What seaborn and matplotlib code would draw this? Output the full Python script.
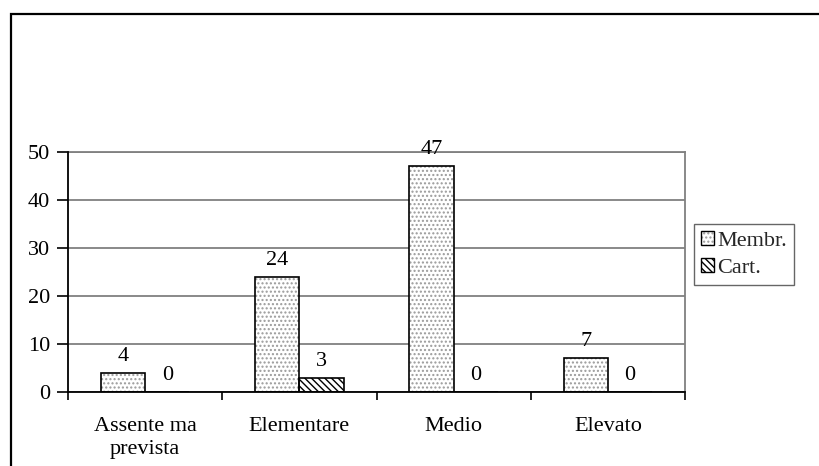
import matplotlib
matplotlib.use("Agg")
import matplotlib.pyplot as plt
import seaborn as sns
import pandas as pd
from matplotlib.patches import Rectangle, Patch
from matplotlib.ticker import FixedLocator
from matplotlib.legend_handler import HandlerTuple

# Data
categories = ["Assente ma\nprevista", "Elementare", "Medio", "Elevato"]
series = ["Membr.", "Cart."]
membr = [4, 24, 47, 7]
cart = [0, 3, 0, 0]

df = pd.DataFrame({
    "livello": categories * 2,
    "serie": [series[0]] * len(categories) + [series[1]] * len(categories),
    "valore": membr + cart,
})

sns.set_theme(style="white")
plt.rcParams["font.family"] = ["Liberation Serif", "DejaVu Serif"]
plt.rcParams["hatch.linewidth"] = 1.0

FS = 16
W, H = 819, 466
fig = plt.figure(figsize=(W / 100, H / 100), dpi=100)
fig.patch.set_facecolor("white")

# plot area in pixel coordinates
x0, x1, y_top, y_bot = 68, 685, 152, 392
ax = fig.add_axes([x0 / W, 1 - y_bot / H, (x1 - x0) / W, (y_bot - y_top) / H])

sns.barplot(data=df, x="livello", y="valore", hue="serie", order=categories,
            hue_order=series, width=0.575, gap=0, ax=ax, legend=False,
            palette=["white", "white"], saturation=1)

styles = {
    "Membr.": dict(hatch="....", hcolor="#9a9a9a"),
    "Cart.": dict(hatch="\\\\\\\\\\", hcolor="black"),
}

for cont, name in zip(ax.containers, series):
    st = styles[name]
    for p in cont:
        p.set_facecolor("white")
        p.set_edgecolor(st["hcolor"])
        p.set_hatch(st["hatch"])
        p.set_linewidth(0)
        ax.add_patch(Rectangle((p.get_x(), p.get_y()), p.get_width(), p.get_height(),
                               fill=False, edgecolor="black", linewidth=1.2,
                               zorder=p.get_zorder() + 0.1))
    ax.bar_label(cont, fmt="%g", padding=5, fontsize=FS, color="black")

ax.set_ylim(0, 50)
ax.set_xlim(-0.5, len(categories) - 0.5)
ax.set_yticks([0, 10, 20, 30, 40, 50])
ax.set_xlabel("")
ax.set_ylabel("")

ax.yaxis.grid(True, color="#808080", linewidth=1.3)
ax.set_axisbelow(True)

ax.tick_params(axis="y", which="major", direction="out", length=8, width=1.2,
               color="black", pad=5, labelsize=FS, left=True, labelcolor="black")
ax.tick_params(axis="x", which="major", length=0, pad=18, labelsize=FS, labelcolor="black")
ax.xaxis.set_minor_locator(FixedLocator([i - 0.5 for i in range(len(categories) + 1)]))
ax.tick_params(axis="x", which="minor", direction="out", length=6, width=1.2,
               color="black", bottom=True)
for lbl in ax.get_xticklabels():
    lbl.set_linespacing(1.3)

for side in ["left", "bottom"]:
    ax.spines[side].set_color("black")
    ax.spines[side].set_linewidth(1.3)
for side in ["top", "right"]:
    ax.spines[side].set_color("#808080")
    ax.spines[side].set_linewidth(1.3)
ax.spines["left"].set_zorder(3)

# legend
handles = [
    (Patch(facecolor="white", edgecolor=styles[n]["hcolor"], hatch=styles[n]["hatch"], linewidth=0),
     Patch(fill=False, edgecolor="black", linewidth=1.0))
    for n in series
]
leg = fig.legend(handles, series, loc="upper left", bbox_to_anchor=(694 / W, 1 - 224 / H),
                 fontsize=FS, frameon=True, fancybox=False, edgecolor="#404040",
                 handlelength=0.6, handleheight=0.6, handletextpad=0.15,
                 labelspacing=0.35, borderpad=0.3, borderaxespad=0,
                 handler_map={tuple: HandlerTuple(ndivide=1, pad=0)})
leg.get_frame().set_linewidth(1.0)

# outer chart border (extends past the right and bottom edges)
fig.add_artist(Rectangle((11 / W, -0.2), 1.2, (H - 14) / H + 0.2, transform=fig.transFigure,
                         fill=False, edgecolor="black", linewidth=1.6, clip_on=False))

fig.savefig("out.png", dpi=100)
